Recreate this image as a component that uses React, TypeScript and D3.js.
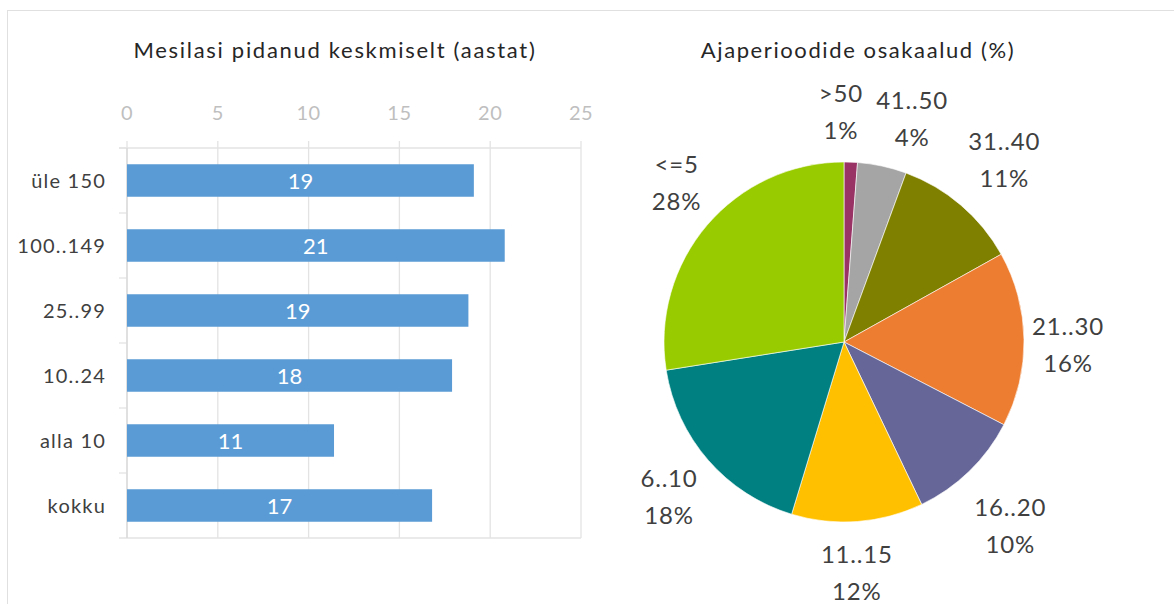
import { scaleLinear, scaleBand, pie, arc } from 'd3';
import type { PieArcDatum } from 'd3';

const W = 1174;
const H = 604;
const FONT = 'Lato, "Open Sans", sans-serif';
const TEXT = '#404040';
const GRID = '#E3E3E3';

// bar chart data
const barCategories = ['üle 150', '100..149', '25..99', '10..24', 'alla 10', 'kokku'];
const barValues = [19.1, 20.8, 18.8, 17.9, 11.4, 16.8];
const barTicks = [0, 5, 10, 15, 20, 25];

// pie chart data, clockwise from 12 o'clock
const pieCategories = ['>50', '41..50', '31..40', '21..30', '16..20', '11..15', '6..10', '<=5'];
const pieValues = [1.2, 4.4, 11.3, 15.7, 10.3, 11.8, 17.8, 27.5];
const pieColors = ['#993366', '#A5A5A5', '#808000', '#ED7D31', '#666699', '#FFC000', '#008080', '#99CC00'];
// small shifts of the outside labels, as the spreadsheet's best-fit placement does
const labelNudge: [number, number][] = [[-12, 6], [18, 8], [7, -3], [-12, 7], [2, 15], [-5, -4], [3, 0], [12, -6]];

interface Slice {
  name: string;
  value: number;
  color: string;
}

function BarChart() {
  const x = scaleLinear().domain([0, 25]).range([127, 581]);
  const y = scaleBand<string>().domain(barCategories).range([148, 538]).paddingInner(0.5).paddingOuter(0.25);
  const bandEdges = barCategories.map((_, i) => 148 + (i * (538 - 148)) / barCategories.length);

  return (
    <g>
      <text x={335} y={58} textAnchor="middle" fontSize={22} fill="#262626" letterSpacing={1.7}>
        Mesilasi pidanud keskmiselt (aastat)
      </text>
      {barTicks.map(t => (
        <g key={t}>
          <line x1={x(t)} x2={x(t)} y1={141} y2={538} stroke={GRID} strokeWidth={1.3} />
          <text x={x(t)} y={120} textAnchor="middle" fontSize={20} fill="#BFBFBF" letterSpacing={0.5}>
            {t}
          </text>
        </g>
      ))}
      <line x1={119} x2={581} y1={148} y2={148} stroke={GRID} strokeWidth={1.3} />
      <line x1={119} x2={581} y1={538} y2={538} stroke={GRID} strokeWidth={1.3} />
      {bandEdges.map(e => (
        <line key={e} x1={119} x2={127} y1={e} y2={e} stroke={GRID} strokeWidth={1.3} />
      ))}
      <line x1={127} x2={127} y1={148} y2={538} stroke="#D9D9D9" strokeWidth={1.3} />
      {barCategories.map((c, i) => {
        const by = y(c) ?? 0;
        const bh = y.bandwidth();
        return (
          <g key={c}>
            <rect x={x(0)} y={by} width={x(barValues[i]) - x(0)} height={bh} fill="#5B9BD5" />
            <text x={(x(0) + x(barValues[i])) / 2} y={by + bh / 2 + 8} textAnchor="middle" fontSize={22} fill="#FFFFFF">
              {Math.round(barValues[i])}
            </text>
            <text x={106} y={by + bh / 2 + 7} textAnchor="end" fontSize={20} fill={TEXT} letterSpacing={1.2}>
              {c}
            </text>
          </g>
        );
      })}
    </g>
  );
}

function PieChart() {
  const cx = 844;
  const cy = 342;
  const r = 180;
  const slices: Slice[] = pieCategories.map((name, i) => ({ name, value: pieValues[i], color: pieColors[i] }));
  const total = pieValues.reduce((a, b) => a + b, 0);
  const arcs = pie<Slice>().value(d => d.value).sort(null)(slices);
  const arcGen = arc<PieArcDatum<Slice>>().innerRadius(0).outerRadius(r);
  const labelArc = arc<PieArcDatum<Slice>>().innerRadius(236).outerRadius(236);

  return (
    <g>
      <text x={858} y={58} textAnchor="middle" fontSize={22} fill="#262626" letterSpacing={1.6}>
        Ajaperioodide osakaalud (%)
      </text>
      <g transform={`translate(${cx},${cy})`}>
        {arcs.map(a => (
          <path key={a.data.name} d={arcGen(a) ?? ''} fill={a.data.color} stroke="#FFFFFF" strokeWidth={0.6} />
        ))}
        {arcs.map((a, i) => {
          const [cxl, cyl] = labelArc.centroid(a);
          const lx = cxl + labelNudge[i][0];
          const ly = cyl + labelNudge[i][1];
          return (
            <text key={a.data.name} textAnchor="middle" fontSize={24} fill={TEXT} letterSpacing={0.8}>
              <tspan x={lx} y={ly - 10}>{a.data.name}</tspan>
              <tspan x={lx} y={ly + 27}>{Math.round((a.data.value / total) * 100)}%</tspan>
            </text>
          );
        })}
      </g>
    </g>
  );
}

export default function App() {
  return (
    <div style={{ position: 'absolute', left: 0, top: 0 }}>
      <svg width={W} height={H} fontFamily={FONT} style={{ display: 'block', background: '#FFFFFF' }}>
        <rect x={7.5} y={10.5} width={1200} height={700} fill="#FFFFFF" stroke="#E0E0E0" strokeWidth={1} />
        <BarChart />
        <PieChart />
      </svg>
    </div>
  );
}
